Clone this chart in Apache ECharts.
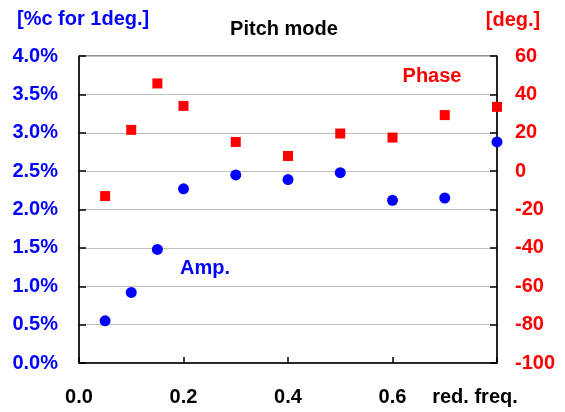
<!DOCTYPE html>
<html>
<head>
<meta charset="utf-8">
<script src="https://cdn.jsdelivr.net/npm/echarts@6/dist/echarts.min.js"></script>
<style>html,body{margin:0;padding:0;background:#fff}#c{width:565px;height:412px}</style>
</head>
<body>
<div id="c"></div>
<script>
var freq = [0.05, 0.1, 0.15, 0.2, 0.3, 0.4, 0.5, 0.6, 0.7, 0.8];
var amp = [0.55, 0.92, 1.48, 2.27, 2.45, 2.39, 2.48, 2.12, 2.15, 2.88];
var phase = [-13.0, 21.5, 45.7, 34.0, 15.2, 7.9, 19.6, 17.5, 29.2, 33.5];
var xTicks = ['0.0', '0.2', '0.4', '0.6', ''];

var F = '"Liberation Sans", Arial, sans-serif';
var chart = echarts.init(document.getElementById('c'), null, {renderer: 'canvas'});
function pairs(xs, ys) { return xs.map(function (x, i) { return [x, ys[i]]; }); }
chart.setOption({
  animation: false,
  grid: {left: 79, right: 68, top: 56, bottom: 49, show: true, borderColor: '#222', borderWidth: 1, backgroundColor: 'transparent'},
  xAxis: {
    type: 'value', min: 0, max: 0.8, interval: 0.2,
    axisLine: {lineStyle: {color: '#000', width: 1.5}},
    axisTick: {inside: true, length: 6, lineStyle: {color: '#000', width: 1.5}},
    splitLine: {show: false},
    axisLabel: {margin: 24, color: '#000', fontSize: 20, fontWeight: 'bold', fontFamily: F,
      formatter: function (v) { return xTicks[Math.round(v / 0.2)]; }}
  },
  yAxis: [{
    type: 'value', min: 0, max: 4, interval: 0.5, position: 'left',
    axisLine: {show: true, lineStyle: {color: '#000', width: 1.5}},
    axisTick: {show: true, inside: true, length: 7, lineStyle: {color: '#000', width: 1.5}},
    splitLine: {show: true, lineStyle: {color: '#c0c0c0', width: 1}},
    axisLabel: {margin: 21, color: '#0000ff', fontSize: 20, fontWeight: 'bold', fontFamily: F,
      formatter: function (v) { return v.toFixed(1) + '%'; }}
  }, {
    type: 'value', min: -100, max: 60, interval: 20, position: 'right',
    axisLine: {show: true, lineStyle: {color: '#000', width: 1.5}},
    axisTick: {show: true, inside: true, length: 7, lineStyle: {color: '#000', width: 1.5}},
    splitLine: {show: false},
    axisLabel: {margin: 18, color: '#ff0000', fontSize: 20, fontWeight: 'bold', fontFamily: F}
  }],
  series: [{
    name: 'Phase', type: 'scatter', yAxisIndex: 1, symbol: 'rect', symbolSize: 10,
    itemStyle: {color: '#ff0000', opacity: 1}, data: pairs(freq, phase)
  }, {
    name: 'Amp.', type: 'scatter', yAxisIndex: 0, symbol: 'circle', symbolSize: 11,
    itemStyle: {color: '#0000ff', opacity: 1}, data: pairs(freq, amp)
  }],
  graphic: [
    {type: 'text', left: 17, top: 9, style: {text: '[%c for 1deg.]', fill: '#0000ff', font: 'bold 20px ' + F}},
    {type: 'text', x: 284, y: 29, style: {text: 'Pitch mode', fill: '#000', font: 'bold 20px ' + F, textAlign: 'center', textVerticalAlign: 'middle'}},
    {type: 'text', x: 513, y: 20, style: {text: '[deg.]', fill: '#ff0000', font: 'bold 20px ' + F, textAlign: 'center', textVerticalAlign: 'middle'}},
    {type: 'text', x: 432, y: 76, style: {text: 'Phase', fill: '#ff0000', font: 'bold 20px ' + F, textAlign: 'center', textVerticalAlign: 'middle'}},
    {type: 'text', x: 205, y: 268, style: {text: 'Amp.', fill: '#0000ff', font: 'bold 20px ' + F, textAlign: 'center', textVerticalAlign: 'middle'}},
    {type: 'text', x: 475, y: 397, style: {text: 'red. freq.', fill: '#000', font: 'bold 20px ' + F, textAlign: 'center', textVerticalAlign: 'middle'}}
  ]
});
</script>
</body>
</html>
